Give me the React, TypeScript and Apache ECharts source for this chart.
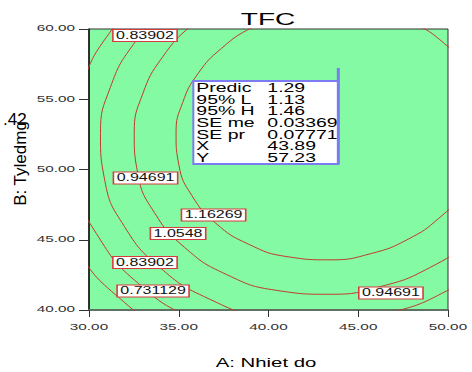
import { useEffect, useRef } from "react";
import * as echarts from "echarts";

// Axis ticks (A: temperature, B: ratio)
const X_TICKS = [30, 35, 40, 45, 50];
const X_TICK_LABELS = ["30.00", "35.00", "40.00", "45.00", "50.00"];
const Y_TICKS = [40, 45, 50, 55, 60];
const Y_TICK_LABELS = ["40.00", "45.00", "50.00", "55.00", "60.00"];

// Contour levels of the TFC response
const LEVELS = [1.16269, 1.0548, 0.94691, 0.83902, 0.731129];

// Traced contour lines as [A, B] pairs; the ends run past the frame and are clipped by the grid
const CONTOUR_116269 = [
  [41.14, 61.12], [39.08, 60.1], [37.38, 58.62], [36.07, 56.82], [35.22, 54.77],
  [34.85, 52.57], [35.01, 50.31], [35.74, 48.13], [37.05, 46.19], [38.88, 44.69],
  [41.08, 43.79], [43.43, 43.57], [45.72, 44.02], [47.78, 45.04], [49.48, 46.52],
  [50.79, 48.32], [51.64, 50.37],
];
const CONTOUR_116269_CORNER = [
  [52.0, 52.57], [51.85, 54.83], [51.12, 57.01], [49.81, 58.95], [47.98, 60.45], [45.78, 61.35],
];
const CONTOUR_10548 = [
  [40.52, 63.44], [37.9, 62.14], [35.73, 60.27], [34.08, 57.97], [32.99, 55.37],
  [32.52, 52.57], [32.72, 49.7], [33.65, 46.92], [35.32, 44.46], [37.64, 42.54],
  [40.44, 41.4], [43.43, 41.12], [46.34, 41.7], [48.96, 43.0], [51.13, 44.87], [52.78, 47.17],
];
const CONTOUR_094691 = [
  [36.95, 63.79], [34.41, 61.59], [32.47, 58.9], [31.19, 55.85], [30.64, 52.57],
  [30.88, 49.21], [31.97, 45.95], [33.92, 43.06], [36.64, 40.82], [39.92, 39.47],
  [43.43, 39.15], [46.84, 39.83], [49.91, 41.35], [52.45, 43.55],
];
const CONTOUR_083902 = [
  [36.16, 65.17], [33.3, 62.7], [31.12, 59.68], [29.68, 56.25], [29.06, 52.57],
  [29.34, 48.79], [30.56, 45.14], [32.75, 41.89], [35.81, 39.37], [39.49, 37.86],
];
const CONTOUR_0731129 = [
  [27.65, 52.57], [27.94, 48.42], [29.29, 44.4], [31.7, 40.84], [35.06, 38.07], [39.1, 36.41],
];

// Contour value labels: level shown and where it sits
const LABEL_LEVELS = [0.83902, 0.94691, 1.16269, 1.0548, 0.83902, 0.731129, 0.94691];
const LABEL_X = [33.12, 33.15, 36.94, 34.96, 33.12, 33.57, 46.82];
const LABEL_Y = [59.54, 49.4, 46.76, 45.44, 43.38, 41.35, 41.21];

// Prediction flag
const PREDICTION_NAMES = ["Predic", "95% L", "95% H", "SE me", "SE pr", "X", "Y"];
const PREDICTION_VALUES = ["1.29", "1.13", "1.46", "0.03369", "0.07771", "43.89", "57.23"];
const FLAG_POINT = [43.89, 57.23];

const FONT = "'Liberation Sans', Arial, sans-serif";
const PLOT_GREEN = "#84faa4";
const CONTOUR_RED = "#c23b2a";
const FLAG_BLUE = "#7c7cf2";

const CONTOURS = [
  { level: LEVELS[0], points: CONTOUR_116269 },
  { level: LEVELS[0], points: CONTOUR_116269_CORNER },
  { level: LEVELS[1], points: CONTOUR_10548 },
  { level: LEVELS[2], points: CONTOUR_094691 },
  { level: LEVELS[3], points: CONTOUR_083902 },
  { level: LEVELS[4], points: CONTOUR_0731129 },
];

function text(
  content: string,
  x: number,
  y: number,
  size: number,
  scaleX: number,
  align: string,
  vAlign: string,
  extra: Record<string, unknown> = {},
  rotation = 0
) {
  return {
    type: "text",
    x,
    y,
    scaleX,
    rotation,
    z: 100,
    silent: true,
    style: {
      text: content,
      font: `${size}px ${FONT}`,
      fill: "#111",
      align,
      verticalAlign: vAlign,
      textAlign: align,
      textVerticalAlign: vAlign,
      ...extra,
    },
  };
}

export default function App() {
  const ref = useRef<HTMLDivElement>(null);

  useEffect(() => {
    const el = ref.current;
    if (!el) return;
    const chart = echarts.init(el, undefined, { renderer: "svg" });

    chart.setOption({
      animation: false,
      grid: {
        left: 89,
        right: 24,
        top: 29,
        bottom: 62,
        show: true,
        backgroundColor: PLOT_GREEN,
        borderColor: "#333",
        borderWidth: 1,
      },
      xAxis: {
        type: "value",
        min: 30,
        max: 50,
        interval: 5,
        axisLine: { show: true, onZero: false, lineStyle: { color: "#5f6f63", width: 2 } },
        axisTick: { show: true, length: 7, lineStyle: { color: "#333", width: 1 } },
        axisLabel: { show: false },
        splitLine: { show: false },
      },
      yAxis: {
        type: "value",
        min: 40,
        max: 60,
        interval: 5,
        axisLine: { show: true, onZero: false, lineStyle: { color: "#111", width: 1.5 } },
        axisTick: { show: true, length: 10, lineStyle: { color: "#333", width: 1 } },
        axisLabel: { show: false },
        splitLine: { show: false },
      },
      series: CONTOURS.map((c, i) => ({
        name: `TFC ${c.level}`,
        id: `contour-${i}`,
        type: "line",
        data: c.points,
        smooth: true,
        showSymbol: false,
        symbol: "none",
        silent: true,
        clip: true,
        z: 2,
        lineStyle: { color: CONTOUR_RED, width: 1 },
      })),
    });

    const toPx = (x: number, y: number) =>
      chart.convertToPixel({ gridIndex: 0 }, [x, y]) as number[];

    const elements: any[] = [];

    // Tick labels
    X_TICKS.forEach((v, i) => {
      const p = toPx(v, 40);
      elements.push(text(X_TICK_LABELS[i], p[0], p[1] + 17, 9, 1.7, "center", "middle", { fill: "#333" }));
    });
    Y_TICKS.forEach((v, i) => {
      const p = toPx(30, v);
      elements.push(text(Y_TICK_LABELS[i], p[0] - 14, p[1] - 0.5, 9, 1.7, "right", "middle", { fill: "#333" }));
    });

    // Title and axis names
    elements.push(text("TFC", 268, 19, 17, 1.65, "center", "middle", { fill: "#000" }));
    elements.push(text("A: Nhiet do", 266, 363, 12.5, 1.63, "center", "middle", { fill: "#000" }));
    elements.push(text("B: Tyledmg", 20.5, 163.5, 17, 1, "center", "middle", { fill: "#000" }, Math.PI / 2));
    elements.push(text(".42", 3, 119, 17, 1, "left", "middle", { fill: "#000" }));

    // Contour value labels
    LABEL_LEVELS.forEach((lv, i) => {
      const p = toPx(LABEL_X[i], LABEL_Y[i]);
      elements.push(
        text(String(lv), p[0], p[1], 10, 1.6, "center", "middle", {
          fill: "#111",
          backgroundColor: "#ffffff",
          borderColor: "#d63c3c",
          borderWidth: 1,
          padding: [1, 1.5, 0, 1.5],
          lineHeight: 10,
        })
      );
    });

    // Prediction flag and box
    const f = toPx(FLAG_POINT[0], FLAG_POINT[1]);
    const boxLeft = f[0] - 145;
    const boxTop = f[1] + 13;
    const boxBottom = f[1] + 96;
    elements.push({
      type: "rect",
      z: 99,
      silent: true,
      shape: { x: boxLeft, y: boxTop, width: f[0] - boxLeft, height: boxBottom - boxTop },
      style: { fill: "#ffffff", stroke: FLAG_BLUE, lineWidth: 2 },
    });
    PREDICTION_NAMES.forEach((name, i) => {
      const y = boxTop + 7 + i * 11.55;
      elements.push(text(name, boxLeft + 3, y, 12, 1.62, "left", "middle", { fill: "#000" }));
      elements.push(text(PREDICTION_VALUES[i], f[0] - 71, y, 12, 1.62, "left", "middle", { fill: "#000" }));
    });
    elements.push({
      type: "line",
      z: 101,
      silent: true,
      shape: { x1: f[0], y1: f[1], x2: f[0], y2: boxBottom },
      style: { stroke: FLAG_BLUE, lineWidth: 3 },
    });

    chart.setOption({ graphic: { elements } });

    return () => chart.dispose();
  }, []);

  return (
    <div
      ref={ref}
      style={{ position: "fixed", left: 0, top: 0, width: 472, height: 372, background: "#fff" }}
    />
  );
}
